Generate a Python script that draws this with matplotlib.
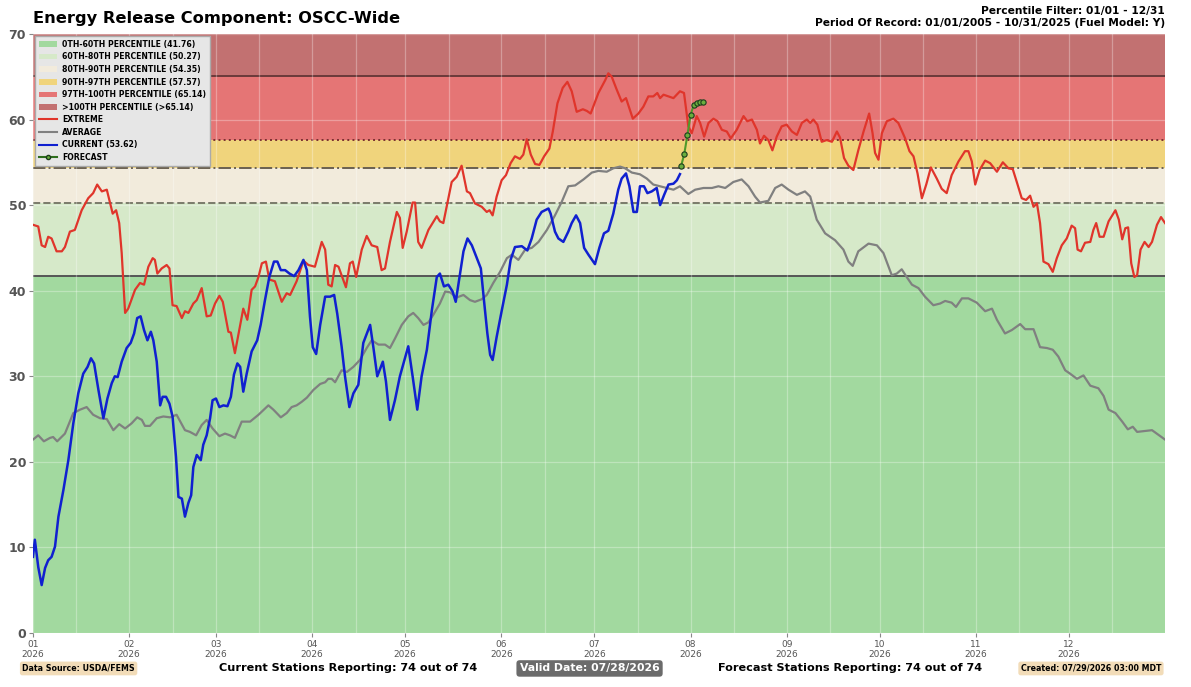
import matplotlib
matplotlib.use("Agg")
import matplotlib.pyplot as plt
from matplotlib.patches import Patch
from matplotlib.lines import Line2D

# ---------------- data ----------------
month_labels = ["01", "02", "03", "04", "05", "06", "07", "08", "09", "10", "11", "12"]
month_start = [0, 31, 59, 90, 120, 151, 181, 212, 243, 273, 304, 334]
year_label = "2026"

pct_values = [41.76, 50.27, 54.35, 57.57, 65.14]
band_labels = ["0TH-60TH PERCENTILE (41.76)", "60TH-80TH PERCENTILE (50.27)",
               "80TH-90TH PERCENTILE (54.35)", "90TH-97TH PERCENTILE (57.57)",
               "97TH-100TH PERCENTILE (65.14)", ">100TH PERCENTILE (>65.14)"]
current_value = 53.62

ext_day = [0, 1.7, 2.8, 3.9, 4.9, 6.0, 7.6, 9.3, 10.3, 11.9, 13.5, 15.7, 17.8, 19.4, 20.7, 22.2, 23.8,
           25.7, 26.8, 27.8, 28.6, 29.7, 30.7, 32.9, 34.5, 35.8, 37.2, 38.6, 39.3, 40.1, 41.5, 43.1,
           44.0, 45.0, 46.3, 48.0, 49.0, 50.1, 51.7, 52.8, 54.4, 56.0, 57.3, 58.7, 60.1, 61.2, 63.0,
           63.8, 65.1, 66.5, 67.8, 69.1, 70.5, 71.6, 72.7, 73.8, 75.1, 76.2, 78.0, 80.2, 81.8, 82.9,
           85.0, 87.2, 88.8, 90.9, 93.1, 94.2, 95.2, 96.3, 97.4, 98.5, 99.5, 100.9, 102.2, 103.1,
           104.2, 106.0, 107.6, 109.2, 111.0, 112.4, 113.5, 115.1, 117.3, 118.3, 119.2, 120.5,
           122.4, 123.2, 124.2, 125.3, 127.5, 130.2, 131.2, 132.3, 135.0, 136.6, 138.2, 139.9,
           140.9, 142.5, 144.7, 146.3, 147.2, 148.2, 149.5, 151.1, 152.5, 154.0, 155.4, 157.0,
           158.1, 159.2, 160.5, 161.9, 163.3, 164.8, 166.5, 167.6, 169.1, 170.8, 172.3, 173.7,
           175.3, 177.3, 178.6, 179.8, 182.3, 184.5, 185.5, 186.6, 188.2, 189.8, 191.2, 193.4,
           195.2, 196.8, 198.4, 200.0, 201.3, 202.2, 203.3, 204.9, 206.5, 208.6, 209.9, 211.3,
           212.4, 214.0, 215.1, 216.4, 217.8, 219.4, 220.7, 222.1, 223.7, 225.0, 226.9, 229.1,
           230.3, 231.8, 233.4, 234.4, 235.7, 237.1, 238.4, 239.8, 241.4, 243.0, 244.7, 246.3,
           247.9, 249.5, 250.6, 251.6, 252.9, 254.3, 255.9, 257.6, 259.2, 260.2, 261.5, 262.9,
           264.5, 266.1, 267.8, 269.6, 270.7, 271.5, 272.6, 273.7, 275.3, 277.4, 279.0, 281.2,
           282.6, 283.9, 285.2, 286.6, 288.0, 289.5, 291.4, 293.0, 294.6, 296.2, 298.4, 300.5,
           301.6, 302.7, 303.8, 305.2, 307.0, 308.6, 310.8, 312.7, 314.5, 315.9, 317.2, 318.8,
           320.2, 321.5, 322.6, 323.7, 324.7, 325.8, 327.4, 328.8, 330.1, 331.7, 333.3, 334.9,
           336.0, 336.8, 337.9, 339.2, 340.9, 341.9, 342.8, 343.9, 345.2, 346.8, 349.0, 350.1,
           351.2, 352.2, 353.1, 354.1, 355.1, 356.0, 357.1, 358.4, 359.7, 360.8, 362.4, 363.7, 365.0]
ext_val = [47.7, 47.5, 45.3, 45.1, 46.3, 46.1, 44.6, 44.6, 45.1, 46.9, 47.1, 49.4, 50.8, 51.4, 52.4,
           51.6, 51.8, 49.0, 49.4, 47.9, 44.4, 37.4, 37.9, 40.1, 40.9, 40.7, 42.8, 43.8, 43.6, 42.0,
           42.6, 43.0, 42.6, 38.3, 38.2, 36.8, 37.6, 37.4, 38.5, 38.9, 40.3, 37.0, 37.1, 38.5, 39.4,
           38.7, 35.2, 35.1, 32.7, 35.4, 37.9, 36.6, 40.1, 40.5, 41.6, 43.2, 43.4, 41.3, 41.1, 38.7,
           39.7, 39.5, 41.1, 43.5, 43.0, 42.8, 45.7, 44.8, 40.7, 40.5, 43.0, 42.8, 41.8, 40.4, 43.2,
           43.4, 41.6, 44.8, 46.4, 45.3, 45.1, 42.4, 42.6, 45.7, 49.2, 48.5, 45.0, 46.9, 50.3, 50.3,
           45.7, 45.0, 47.1, 48.7, 48.1, 47.9, 52.7, 53.3, 54.6, 51.6, 51.4, 50.2, 49.8, 49.2, 49.4,
           48.8, 51.0, 52.9, 53.5, 54.9, 55.7, 55.4, 55.9, 57.7, 55.9, 54.8, 54.7, 55.7, 56.6, 58.6,
           61.9, 63.7, 64.4, 63.3, 60.9, 61.2, 61.0, 60.7, 63.1, 64.6, 65.4, 65.0, 63.5, 62.1, 62.5,
           60.1, 60.7, 61.5, 62.7, 62.7, 63.1, 62.5, 62.9, 62.7, 62.5, 63.3, 63.1, 59.2, 58.4, 60.4,
           59.6, 58.0, 59.6, 60.1, 59.8, 58.8, 58.6, 57.8, 58.8, 60.4, 59.8, 60.0, 58.8, 57.2, 58.1,
           57.6, 56.4, 58.0, 59.2, 59.4, 58.6, 58.2, 59.6, 60.0, 59.6, 60.0, 59.4, 57.4, 57.6, 57.4,
           58.6, 57.9, 55.5, 54.6, 54.1, 56.4, 58.6, 60.7, 58.4, 56.1, 55.3, 58.4, 59.8, 60.1, 59.6,
           57.8, 56.3, 55.7, 53.7, 50.8, 52.4, 54.4, 53.1, 51.9, 51.4, 53.5, 55.1, 56.3, 56.3, 55.1,
           52.4, 54.1, 55.2, 54.9, 53.9, 55.0, 54.3, 54.2, 52.7, 50.8, 50.6, 51.1, 49.8, 50.2, 47.9,
           43.4, 43.1, 42.2, 43.8, 45.3, 46.1, 47.6, 47.3, 44.8, 44.6, 45.6, 45.7, 47.1, 47.9, 46.3,
           46.3, 48.1, 49.4, 48.3, 46.0, 47.3, 47.4, 43.2, 41.6, 41.8, 44.8, 45.7, 45.1, 45.7, 47.7,
           48.6, 47.9]

avg_day = [0, 1.7, 3.5, 5.5, 6.5, 7.8, 10.3, 13.0, 15.2, 17.3, 19.4, 21.6, 23.8, 25.9, 27.8, 29.7,
           31.8, 33.6, 35.1, 36.1, 37.7, 39.9, 42.0, 44.2, 46.3, 49.0, 50.6, 52.6, 54.4, 56.0, 57.9,
           60.1, 61.9, 63.5, 65.1, 67.3, 70.0, 72.7, 75.9, 77.5, 79.9, 81.8, 83.4, 85.0, 86.6, 88.3,
           90.4, 92.6, 94.2, 95.2, 96.3, 97.4, 99.5, 101.2, 103.3, 105.4, 107.6, 109.2, 111.4, 113.5,
           115.1, 116.7, 118.9, 121.0, 122.6, 124.2, 125.9, 127.5, 129.1, 131.2, 132.9, 134.5, 136.6,
           138.8, 140.9, 142.5, 144.7, 146.3, 148.4, 150.6, 152.8, 154.4, 156.5, 158.7, 160.8, 163.0,
           165.7, 168.3, 170.5, 172.6, 174.8, 177.5, 180.2, 182.3, 185.0, 187.1, 189.3, 190.9, 193.1,
           195.7, 197.9, 200.0, 202.2, 204.3, 206.5, 208.6, 211.3, 213.5, 216.2, 218.9, 221.0, 223.2,
           225.8, 228.5, 230.7, 232.8, 234.4, 237.1, 239.3, 241.4, 243.6, 246.3, 248.9, 250.6, 252.7,
           255.4, 258.6, 261.3, 262.9, 264.3, 266.1, 269.4, 272.1, 274.2, 276.9, 278.5, 280.1, 281.7,
           283.4, 285.5, 287.6, 290.3, 292.5, 294.1, 296.2, 297.6, 299.5, 301.6, 304.3, 307.0, 309.2,
           310.8, 313.4, 315.6, 318.3, 319.9, 322.6, 324.7, 326.9, 328.8, 330.6, 332.8, 334.4, 336.6,
           338.7, 340.9, 343.5, 345.2, 346.8, 349.0, 351.2, 353.0, 354.6, 356.0, 360.8, 365.0]
avg_val = [22.6, 23.1, 22.4, 22.8, 22.9, 22.4, 23.3, 25.7, 26.1, 26.4, 25.5, 25.1, 25.0, 23.7, 24.4,
           23.9, 24.5, 25.2, 24.9, 24.2, 24.2, 25.1, 25.3, 25.2, 25.5, 23.7, 23.5, 23.1, 24.3, 24.9,
           23.9, 23.0, 23.3, 23.1, 22.8, 24.7, 24.7, 25.5, 26.6, 26.1, 25.2, 25.7, 26.4, 26.6, 27.0,
           27.5, 28.4, 29.1, 29.3, 29.7, 29.7, 29.3, 30.7, 30.5, 31.1, 31.9, 33.3, 34.2, 33.7, 33.7,
           33.3, 34.4, 36.0, 37.0, 37.4, 36.8, 36.0, 36.3, 37.2, 38.5, 39.9, 39.8, 39.2, 39.5, 38.9,
           38.7, 39.0, 39.5, 40.9, 42.2, 43.8, 44.2, 43.6, 44.8, 45.0, 45.7, 47.1, 48.8, 50.4, 52.2,
           52.3, 53.0, 53.8, 54.0, 53.9, 54.3, 54.5, 54.3, 53.8, 53.6, 53.1, 52.4, 52.2, 52.0, 51.8,
           52.2, 51.3, 51.8, 52.0, 52.0, 52.2, 52.0, 52.7, 53.0, 52.2, 51.0, 50.3, 50.5, 52.0, 52.4,
           51.8, 51.2, 51.6, 51.0, 48.3, 46.7, 45.9, 44.8, 43.4, 42.9, 44.6, 45.5, 45.3, 44.4, 41.8,
           42.0, 42.5, 41.6, 40.7, 40.3, 39.3, 38.3, 38.5, 38.8, 38.6, 38.1, 39.1, 39.1, 38.6, 37.6,
           37.9, 36.6, 35.0, 35.4, 36.1, 35.5, 35.5, 33.4, 33.3, 33.1, 32.3, 30.7, 30.3, 29.7, 30.1,
           28.9, 28.6, 27.7, 26.1, 25.7, 24.7, 23.8, 24.1, 23.5, 23.7, 22.6]

cur_day = [0, 0.6, 1.7, 2.8, 3.9, 4.9, 6.0, 7.1, 8.2, 9.8, 11.4, 13.0, 14.6, 16.2, 17.6, 18.7, 19.7,
           21.1, 22.7, 24.0, 25.4, 26.4, 27.3, 28.6, 30.2, 31.5, 32.6, 33.6, 34.7, 35.8, 36.9, 38.0,
           38.8, 39.9, 41.0, 41.8, 42.9, 44.0, 45.0, 46.1, 46.9, 48.0, 49.0, 50.1, 51.0, 51.7, 52.8,
           54.1, 54.9, 56.0, 57.1, 57.9, 59.0, 60.1, 61.4, 62.7, 63.8, 64.8, 65.9, 66.8, 67.8, 68.9,
           70.5, 72.3, 73.4, 74.8, 76.2, 77.7, 78.8, 79.9, 81.3, 82.7, 84.2, 85.6, 87.2, 88.3, 89.3,
           90.2, 91.3, 92.6, 94.2, 95.8, 97.1, 98.1, 99.5, 100.6, 102.0, 103.3, 104.9, 106.5, 108.7,
           109.7, 111.0, 112.8, 113.8, 115.1, 116.7, 118.3, 119.6, 121.0, 122.4, 123.9, 125.3, 127.0,
           128.6, 130.2, 131.2, 132.5, 133.9, 135.3, 136.3, 137.7, 138.8, 140.1, 141.5, 142.9, 144.4,
           145.4, 146.5, 147.4, 148.2, 149.5, 151.1, 152.8, 154.0, 155.4, 157.6, 159.4, 160.8, 162.4,
           164.0, 166.2, 166.9, 168.3, 169.4, 171.0, 172.6, 173.7, 175.1, 176.4, 177.7, 179.1, 181.2,
           182.6, 184.1, 185.5, 187.1, 188.7, 189.8, 191.2, 192.3, 193.6, 194.7, 195.7, 197.0, 198.1,
           199.5, 201.1, 202.2, 203.5, 204.9, 206.5, 207.6, 208.6]
cur_val = [8.9, 10.9, 7.7, 5.6, 7.6, 8.5, 8.9, 10.1, 13.6, 16.7, 20.2, 24.5, 28.0, 30.3, 31.1, 32.1,
           31.5, 28.4, 25.1, 27.4, 29.2, 30.0, 29.9, 31.7, 33.3, 33.9, 35.0, 36.8, 37.0, 35.4, 34.2,
           35.2, 34.2, 31.7, 26.6, 27.6, 27.6, 26.8, 25.3, 20.6, 15.9, 15.7, 13.6, 15.2, 16.1, 19.4,
           20.8, 20.2, 22.0, 23.1, 25.1, 27.2, 27.4, 26.4, 26.6, 26.5, 27.6, 30.2, 31.5, 31.1, 28.2,
           30.3, 32.9, 34.2, 36.0, 38.9, 41.6, 43.4, 43.4, 42.4, 42.4, 42.0, 41.7, 42.4, 43.6, 42.4,
           37.0, 33.4, 32.6, 36.0, 39.3, 39.3, 39.5, 37.3, 33.5, 30.0, 26.4, 28.0, 29.0, 33.9, 36.0,
           33.5, 30.0, 31.7, 29.4, 24.9, 27.2, 30.0, 31.7, 33.5, 30.0, 26.1, 30.0, 33.1, 37.7, 41.6,
           42.0, 40.5, 40.7, 39.9, 38.7, 42.0, 44.6, 46.1, 45.3, 44.0, 42.6, 38.9, 35.0, 32.5, 31.9,
           34.6, 37.6, 40.7, 43.6, 45.1, 45.2, 44.7, 46.1, 48.3, 49.2, 49.6, 49.0, 46.9, 46.1, 45.7,
           46.9, 47.9, 48.8, 47.9, 45.0, 44.2, 43.1, 45.0, 46.7, 47.0, 49.0, 51.8, 53.1, 53.7, 52.2,
           49.2, 49.2, 52.2, 52.2, 51.4, 51.6, 52.0, 50.0, 51.2, 52.4, 52.5, 52.9, 53.62]

fc_day = [209, 210, 211, 212, 213, 214, 215, 216]
fc_val = [54.6, 56.0, 58.2, 60.5, 61.7, 61.9, 62.0, 62.1]

# ---------------- styling ----------------
band_colors = ["#a2d99f", "#d6e9c9", "#f2ebdc", "#f0d47c", "#e57575", "#c27171"]
thr_styles = [("-", "#555555", 1.4), ("--", "#7a7a6a", 1.4), ("-.", "#6a6050", 1.4),
              (":", "#7a3030", 1.4), ("-", "#6a3a3a", 1.4)]
text_gray = "#555555"

fig = plt.figure(figsize=(11.91, 6.87), dpi=100)
ax = fig.add_axes([0.0277, 0.0786, 0.9505, 0.872])
ax.set_facecolor("#e5e5e5")

edges = [0] + pct_values + [70]
for i in range(6):
    ax.axhspan(edges[i], edges[i + 1], color=band_colors[i], zorder=0.5, lw=0)
for v, (ls, c, lw) in zip(pct_values, thr_styles):
    ax.axhline(v, ls=ls, color=c, lw=lw, zorder=1.5)

ax.set_xlim(0, 365)
ax.set_ylim(0, 70)
ax.set_xticks(month_start)
ax.set_xticklabels([f"{m}\n{year_label}" for m in month_labels], fontsize=6.5, color=text_gray)
ax.set_xticks([d + 14 for d in month_start], minor=True)
ax.set_yticks(range(0, 71, 10))
ax.set_yticklabels([str(v) for v in range(0, 71, 10)], fontsize=9, fontweight="bold", color=text_gray)
ax.tick_params(axis="both", which="major", length=3, color="#888888", pad=2)
ax.tick_params(axis="x", which="minor", length=0)
ax.set_axisbelow(False)
ax.grid(True, which="major", color="white", alpha=0.3, lw=0.9, zorder=2)
ax.grid(True, which="minor", axis="x", color="white", alpha=0.3, lw=0.9, zorder=2)
for s in ax.spines.values():
    s.set_visible(False)

ax.plot(avg_day, avg_val, color="#808080", lw=1.6, zorder=3)
ax.plot(ext_day, ext_val, color="#e0352b", lw=1.6, zorder=4)
ax.plot(cur_day, cur_val, color="#1020d0", lw=1.8, zorder=5)
ax.plot(fc_day, fc_val, color="#4f9a2a", lw=1.5, marker="o", ms=3.8,
        mfc="#6aae3e", mec="#1d3d1d", mew=0.8, zorder=6)

handles = [Patch(facecolor=c, edgecolor="none") for c in band_colors] + [
    Line2D([], [], color="#e0352b", lw=1.5),
    Line2D([], [], color="#808080", lw=1.5),
    Line2D([], [], color="#1020d0", lw=1.5),
    Line2D([], [], color="#2e6e1e", lw=1.5, marker="o", ms=3, mfc="#6aae3e", mec="#1d3d1d")]
labels = band_labels + ["EXTREME", "AVERAGE", f"CURRENT ({current_value})", "FORECAST"]
leg = ax.legend(handles, labels, loc="upper left", bbox_to_anchor=(0.0, 1.0),
                prop={"size": 5.6, "weight": "bold"}, frameon=True, fancybox=False,
                facecolor="#e6e6e6", edgecolor="#aaaaaa", framealpha=1.0,
                labelspacing=0.46, handlelength=2.35, handleheight=0.75, borderpad=0.5,
                handletextpad=0.65, borderaxespad=0.25)
leg.set_zorder(10)

# ---------------- texts ----------------
fig.text(0.0277, 0.973, "Energy Release Component: OSCC-Wide", fontsize=11.7,
         fontweight="bold", ha="left", va="center")
fig.text(0.978, 0.984, "Percentile Filter: 01/01 - 12/31", fontsize=7.7,
         fontweight="bold", ha="right", va="center")
fig.text(0.978, 0.966, "Period Of Record: 01/01/2005 - 10/31/2025 (Fuel Model: Y)", fontsize=7.7,
         fontweight="bold", ha="right", va="center")

ybot = 0.027
fig.text(0.066, ybot, "Data Source: USDA/FEMS", fontsize=5.7, fontweight="bold", ha="center",
         va="center", bbox=dict(boxstyle="round,pad=0.3", fc="#f2dcb8", ec="none"))
fig.text(0.292, ybot, "Current Stations Reporting: 74 out of 74", fontsize=8.1,
         fontweight="bold", ha="center", va="center")
fig.text(0.495, ybot, "Valid Date: 07/28/2026", fontsize=7.8, fontweight="bold", color="white",
         ha="center", va="center", bbox=dict(boxstyle="round,pad=0.3", fc="#6b6b6b", ec="none"))
fig.text(0.714, ybot, "Forecast Stations Reporting: 74 out of 74", fontsize=8.1,
         fontweight="bold", ha="center", va="center")
fig.text(0.916, ybot, "Created: 07/29/2026 03:00 MDT", fontsize=5.7, fontweight="bold",
         ha="center", va="center", bbox=dict(boxstyle="round,pad=0.3", fc="#f2dcb8", ec="none"))

fig.savefig("out.png", dpi=100)
